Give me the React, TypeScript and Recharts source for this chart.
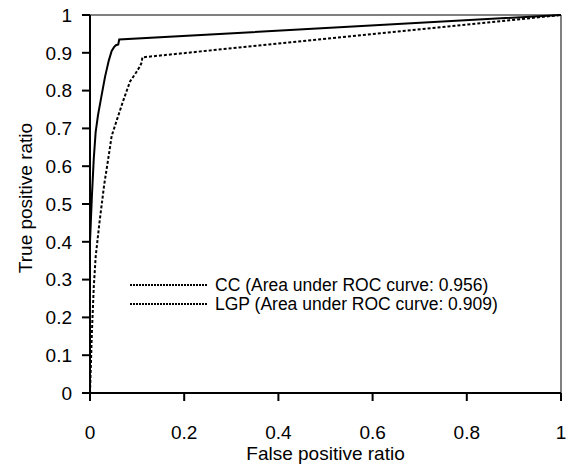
import { LineChart, Line, XAxis, YAxis, ReferenceLine } from 'recharts';

// ROC points (false positive ratio, true positive ratio)
const ccFpr = [0, 0, 0.004, 0.008, 0.012, 0.017, 0.025, 0.032, 0.04, 0.046, 0.051, 0.055, 0.06, 0.062, 1];
const ccTpr = [0, 0.4, 0.52, 0.62, 0.69, 0.735, 0.79, 0.837, 0.88, 0.905, 0.915, 0.92, 0.922, 0.935, 1];

const lgpFpr = [0, 0.004, 0.008, 0.012, 0.02, 0.03, 0.04, 0.046, 0.057, 0.071, 0.085, 0.098, 0.106, 0.11, 0.111, 1];
const lgpTpr = [0, 0.16, 0.28, 0.36, 0.45, 0.55, 0.63, 0.68, 0.722, 0.775, 0.824, 0.848, 0.864, 0.875, 0.888, 1];

const xTicks = [0, 0.2, 0.4, 0.6, 0.8, 1];
const yTicks = [0, 0.1, 0.2, 0.3, 0.4, 0.5, 0.6, 0.7, 0.8, 0.9, 1];

const legendLabels = ['CC (Area under ROC curve: 0.956)', 'LGP (Area under ROC curve: 0.909)'];

const font = '"Liberation Sans", Arial, sans-serif';

const ccData = ccFpr.map((x, i) => ({ fpr: x, tpr: ccTpr[i] }));
const lgpData = lgpFpr.map((x, i) => ({ fpr: x, tpr: lgpTpr[i] }));

export default function App() {
  return (
    <div style={{ position: 'absolute', left: 0, top: 0, width: 566, height: 466, background: '#fff' }}>
      <LineChart width={566} height={466} margin={{ top: 15, right: 5, bottom: 0, left: 0 }}>
        <XAxis
          type="number"
          dataKey="fpr"
          domain={[0, 1]}
          ticks={xTicks}
          height={73}
          axisLine={{ stroke: '#000', strokeWidth: 2 }}
          tickLine={{ stroke: '#000', strokeWidth: 2 }}
          tickSize={8}
          tickMargin={25}
          tick={{ fill: '#000', fontSize: 19, fontFamily: font }}
          label={{ value: 'False positive ratio', position: 'insideBottom', offset: 6, fill: '#000', fontSize: 19, fontFamily: font }}
        />
        <YAxis
          type="number"
          dataKey="tpr"
          domain={[0, 1]}
          ticks={yTicks}
          width={90}
          axisLine={{ stroke: '#000', strokeWidth: 2 }}
          tickLine={{ stroke: '#000', strokeWidth: 2 }}
          tickSize={8}
          tickMargin={10}
          tick={{ fill: '#000', fontSize: 19, fontFamily: font }}
          label={{ value: 'True positive ratio', angle: -90, position: 'insideLeft', offset: 25, dy: -6, fill: '#000', fontSize: 19, fontFamily: font, style: { textAnchor: 'middle' } }}
        />
        <ReferenceLine y={1} stroke="#808080" strokeWidth={2} />
        <ReferenceLine x={1} stroke="#808080" strokeWidth={2} />
        <Line data={lgpData} dataKey="tpr" type="linear" stroke="#000" strokeWidth={2} strokeDasharray="3 2" dot={false} isAnimationActive={false} />
        <Line data={ccData} dataKey="tpr" type="linear" stroke="#000" strokeWidth={2} dot={false} isAnimationActive={false} />
      </LineChart>
      {legendLabels.map((t, i) => (
        <div key={t} style={{ position: 'absolute', left: 130, top: 274 + i * 19, height: 22, display: 'flex', alignItems: 'center', fontFamily: font, fontSize: 17.5, color: '#000', whiteSpace: 'nowrap' }}>
          <svg width={78} height={4} style={{ marginRight: 7 }}>
            <line x1={0} y1={2} x2={78} y2={2} stroke="#000" strokeWidth={2} strokeDasharray="2 1" />
          </svg>
          {t}
        </div>
      ))}
    </div>
  );
}
